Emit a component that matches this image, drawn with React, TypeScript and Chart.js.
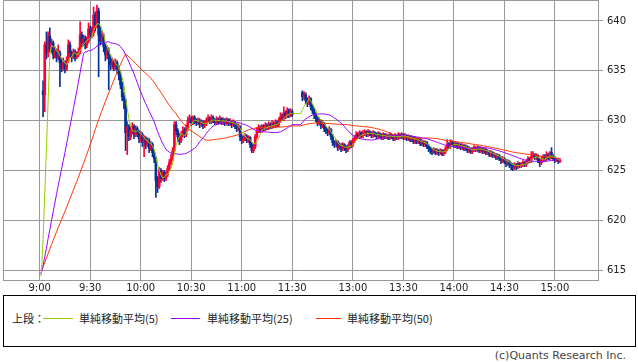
import React, { useEffect, useRef } from "react";
import { Chart, registerables } from "chart.js";

Chart.register(...registerables);

// Previous session's last 50 one-minute closes (used only to seed the moving averages)
const prevDayCloses = [
  615.4, 615.3, 615.5, 615.2, 615.3, 615.4, 615.1, 615.2, 615.3, 615.4,
  615.2, 615.1, 615.3, 615.4, 615.2, 615.3, 615.2, 615.1, 615.3, 615.4,
  615.2, 615.3, 615.2, 615.3, 615.2, 614.9, 614.8, 614.9, 614.7, 614.8,
  614.9, 614.8, 614.7, 614.8, 614.9, 614.7, 614.8, 614.8, 614.7, 614.9,
  614.8, 614.7, 614.8, 614.7, 614.8, 614.6, 614.5, 614.5, 614.4, 614.5,
];

// Morning session 9:00 - 11:30 (one entry per minute)
const amOpens = [
  null, null, 633.0, 632.6, 637.6, 636.8, 638.5, 637.2, 637.8, 636.6,
  637.0, 636.3, 636.8, 635.8, 635.3, 635.8, 635.2, 636.0, 637.6, 636.8,
  636.4, 636.9, 636.4, 636.6, 636.9, 638.6, 637.8, 638.2, 637.6, 638.0,
  639.2, 638.6, 638.8, 640.6, 639.6, 641.0, 638.6, 638.0, 638.4, 637.4,
  636.6, 637.0, 636.2, 635.6, 635.8, 635.4, 635.8, 635.2, 634.6, 633.6,
  632.4, 632.0, 628.8, 629.4, 628.4, 629.0, 629.4, 628.6, 629.2, 628.8,
  628.2, 628.6, 627.8, 628.2, 627.6, 628.0, 627.2, 627.6, 626.8, 626.2,
  624.0, 623.4, 625.0, 624.2, 624.8, 624.2, 624.6, 625.2, 625.8, 626.2,
  627.0, 629.6, 629.0, 628.4, 628.0, 628.6, 629.0, 628.6, 629.2, 630.0,
  630.2, 629.8, 630.3, 630.0, 629.8, 630.0, 629.6, 629.8, 629.5, 629.7,
  630.0, 630.2, 629.9, 630.3, 630.0, 629.8, 630.1, 629.9, 630.2, 629.8,
  630.0, 629.8, 630.1, 629.7, 629.9, 629.6, 629.8, 629.5, 629.2, 629.4,
  628.4, 628.0, 628.2, 628.4, 628.0, 628.3, 627.6, 627.0, 627.4, 628.4,
  629.0, 629.3, 629.0, 629.4, 629.2, 629.5, 629.3, 629.6, 629.4, 629.7,
  629.5, 629.8, 629.6, 630.0, 630.4, 630.2, 630.8, 630.5, 631.0, 630.6,
  630.9,
];
const amHighs = [
  null, null, 634.0, 637.9, 638.9, 638.9, 639.3, 638.2, 638.0, 637.4,
  637.2, 637.6, 637.0, 636.2, 636.3, 636.0, 636.4, 638.1, 637.9, 637.0,
  637.2, 637.1, 636.9, 637.3, 639.9, 638.9, 638.6, 638.5, 638.4, 639.8,
  639.5, 639.4, 641.4, 640.9, 641.6, 641.3, 639.4, 639.0, 638.7, 637.8,
  637.5, 637.3, 636.6, 636.3, 636.1, 636.2, 636.0, 635.5, 634.9, 633.9,
  632.8, 632.2, 629.9, 629.6, 629.4, 629.8, 629.6, 629.5, 629.4, 629.0,
  628.9, 628.8, 628.5, 628.4, 628.3, 628.2, 627.9, 627.8, 627.0, 626.4,
  624.4, 625.3, 625.2, 625.0, 625.0, 624.9, 625.5, 626.1, 626.6, 627.3,
  629.9, 629.9, 629.2, 628.7, 628.9, 629.4, 629.3, 629.6, 630.4, 630.6,
  630.4, 630.5, 630.5, 630.2, 630.3, 630.2, 630.1, 630.0, 630.0, 630.3,
  630.6, 630.4, 630.6, 630.5, 630.2, 630.4, 630.3, 630.5, 630.3, 630.3,
  630.2, 630.3, 630.2, 630.2, 630.0, 630.1, 629.9, 629.7, 629.7, 629.5,
  628.6, 628.5, 628.7, 628.6, 628.5, 628.4, 627.8, 627.7, 628.6, 629.3,
  629.6, 629.5, 629.6, 629.6, 629.8, 629.7, 629.9, 629.8, 630.0, 629.9,
  630.1, 630.0, 630.3, 630.8, 630.7, 631.4, 631.0, 631.3, 631.2, 631.2,
  631.1,
];
const amLows = [
  null, null, 630.4, 630.9, 636.2, 636.4, 636.9, 636.8, 636.2, 636.3,
  635.9, 636.1, 633.4, 634.9, 635.0, 634.8, 635.0, 635.8, 636.4, 635.9,
  636.2, 636.0, 636.2, 636.4, 636.7, 637.4, 637.5, 637.2, 637.3, 637.8,
  638.2, 638.3, 638.5, 639.0, 639.3, 634.4, 637.6, 637.7, 636.9, 636.0,
  636.2, 633.1, 635.1, 635.2, 635.0, 635.1, 634.8, 634.1, 633.2, 632.0,
  631.2, 627.0, 626.6, 628.0, 628.1, 628.7, 628.2, 628.4, 628.4, 627.8,
  627.9, 627.4, 626.4, 627.2, 627.4, 626.8, 627.0, 626.4, 625.8, 622.3,
  622.8, 623.2, 623.8, 624.0, 623.9, 624.0, 624.4, 625.0, 625.6, 626.0,
  626.8, 628.6, 627.9, 627.6, 627.8, 628.4, 628.3, 628.4, 629.0, 629.8,
  629.5, 629.6, 629.7, 629.5, 629.6, 629.3, 629.4, 629.2, 629.3, 629.5,
  629.8, 629.7, 629.7, 629.8, 629.6, 629.6, 629.7, 629.7, 629.6, 629.6,
  629.5, 629.6, 629.5, 629.5, 629.3, 629.4, 629.2, 628.9, 629.0, 628.0,
  627.7, 627.8, 628.0, 627.8, 627.8, 627.3, 626.8, 626.8, 627.2, 628.2,
  628.8, 628.8, 628.8, 629.0, 629.0, 629.1, 629.1, 629.2, 629.2, 629.3,
  629.3, 629.4, 629.4, 629.8, 630.0, 630.0, 630.2, 630.3, 630.3, 630.4,
  630.4,
];
const amCloses = [
  null, null, 632.6, 637.6, 636.8, 638.5, 637.2, 637.8, 636.6, 637.0,
  636.3, 636.8, 635.8, 635.3, 635.8, 635.2, 636.0, 637.6, 636.8, 636.4,
  636.9, 636.4, 636.6, 636.9, 638.6, 637.8, 638.2, 637.6, 638.0, 639.2,
  638.6, 638.8, 640.6, 639.6, 641.0, 638.6, 638.0, 638.4, 637.4, 636.6,
  637.0, 636.2, 635.6, 635.8, 635.4, 635.8, 635.2, 634.6, 633.6, 632.4,
  632.0, 628.8, 629.4, 628.4, 629.0, 629.4, 628.6, 629.2, 628.8, 628.2,
  628.6, 627.8, 628.2, 627.6, 628.0, 627.2, 627.6, 626.8, 626.2, 624.0,
  623.4, 625.0, 624.2, 624.8, 624.2, 624.6, 625.2, 625.8, 626.2, 627.0,
  629.6, 629.0, 628.4, 628.0, 628.6, 629.0, 628.6, 629.2, 630.0, 630.2,
  629.8, 630.3, 630.0, 629.8, 630.0, 629.6, 629.8, 629.5, 629.7, 630.0,
  630.2, 629.9, 630.3, 630.0, 629.8, 630.1, 629.9, 630.2, 629.8, 630.0,
  629.8, 630.1, 629.7, 629.9, 629.6, 629.8, 629.5, 629.2, 629.4, 628.4,
  628.0, 628.2, 628.4, 628.0, 628.3, 627.6, 627.0, 627.4, 628.4, 629.0,
  629.3, 629.0, 629.4, 629.2, 629.5, 629.3, 629.6, 629.4, 629.7, 629.5,
  629.8, 629.6, 630.0, 630.4, 630.2, 630.8, 630.5, 631.0, 630.6, 630.9,
  630.6,
];

// Afternoon session from 12:30 (one entry per minute)
const pmOpens = [
  632.8, 632.4, 632.6, 632.0, 631.8, 632.2, 631.4, 631.0, 630.6, 630.2,
  629.8, 630.0, 629.5, 629.7, 629.2, 629.0, 628.8, 629.1, 628.4, 627.8,
  627.6, 627.9, 627.3, 627.5, 627.2, 627.6, 627.3, 627.1, 627.4, 627.8,
  627.6, 628.0, 628.3, 628.6, 628.4, 628.8, 628.5, 628.7, 628.9, 628.6,
  628.9, 628.7, 628.5, 628.8, 628.6, 628.4, 628.7, 628.5, 628.3, 628.6,
  628.4, 628.5, 628.3, 628.6, 628.4, 628.2, 628.5, 628.3, 628.6, 628.4,
  628.6, 628.3, 628.5, 628.2, 628.4, 628.1, 628.3, 627.9, 628.2, 627.9,
  628.1, 627.7, 627.9, 627.6, 627.8, 627.4, 627.2, 627.0, 626.9, 627.1,
  626.8, 627.0, 626.8, 627.0, 626.7, 626.9, 627.2, 627.6, 627.4, 627.8,
  627.6, 627.5, 627.7, 627.4, 627.6, 627.3, 627.5, 627.2, 627.4, 627.0,
  627.2, 626.9, 627.1, 627.3, 627.1, 627.3, 627.0, 627.2, 626.9, 627.1,
  626.8, 626.9, 626.6, 626.8, 626.5, 626.6, 626.3, 626.5, 626.2, 626.0,
  626.2, 625.9, 625.7, 625.9, 625.6, 625.5, 625.3, 625.6, 625.4, 625.7,
  625.5, 625.6, 625.8, 625.6, 625.9, 626.2, 626.0, 626.4, 626.6, 626.3,
  626.5, 626.0, 625.8, 626.2, 626.4, 626.2, 626.6, 626.3, 626.8, 626.4,
  626.2, 626.0, 626.1, 625.9,
];
const pmHighs = [
  633.0, 632.9, 632.8, 632.3, 632.5, 632.3, 631.6, 631.2, 630.8, 630.4,
  630.3, 630.1, 630.0, 629.8, 629.4, 629.2, 629.4, 629.2, 628.6, 628.0,
  628.1, 628.0, 627.8, 627.7, 627.8, 627.7, 627.5, 627.6, 628.0, 628.0,
  628.2, 628.5, 628.9, 628.8, 629.0, 628.9, 629.0, 629.1, 629.0, 629.1,
  629.0, 628.9, 629.0, 628.9, 628.8, 628.9, 628.8, 628.7, 628.8, 628.7,
  628.7, 628.6, 628.8, 628.7, 628.6, 628.7, 628.6, 628.8, 628.7, 628.8,
  628.7, 628.7, 628.6, 628.6, 628.5, 628.5, 628.4, 628.4, 628.3, 628.3,
  628.2, 628.1, 628.0, 628.0, 627.9, 627.6, 627.4, 627.2, 627.3, 627.2,
  627.2, 627.1, 627.2, 627.1, 627.1, 627.4, 628.1, 627.8, 628.1, 628.0,
  627.8, 627.9, 627.8, 627.8, 627.7, 627.7, 627.6, 627.6, 627.5, 627.4,
  627.3, 627.3, 627.5, 627.4, 627.5, 627.4, 627.4, 627.3, 627.3, 627.2,
  627.1, 627.0, 627.0, 626.9, 626.8, 626.7, 626.7, 626.6, 626.4, 626.4,
  626.3, 626.1, 626.1, 626.0, 625.8, 625.7, 625.8, 625.7, 625.9, 625.8,
  625.8, 626.0, 625.9, 626.1, 626.4, 626.3, 626.9, 626.9, 626.7, 626.7,
  626.6, 626.2, 626.4, 626.6, 626.6, 626.9, 626.7, 626.9, 627.3, 626.6,
  626.4, 626.3, 626.2, 626.2,
];
const pmLows = [
  632.0, 632.1, 631.7, 631.4, 631.6, 631.1, 630.7, 630.2, 629.9, 629.5,
  629.6, 629.2, 629.3, 628.9, 628.7, 628.5, 628.6, 628.1, 627.5, 627.3,
  627.4, 627.0, 627.1, 626.9, 627.0, 627.0, 626.8, 626.9, 627.2, 627.3,
  627.4, 627.8, 628.1, 628.2, 628.2, 628.3, 628.3, 628.5, 628.4, 628.4,
  628.5, 628.3, 628.3, 628.4, 628.2, 628.2, 628.3, 628.1, 628.1, 628.2,
  628.2, 628.1, 628.1, 628.2, 628.0, 628.0, 628.1, 628.1, 628.2, 628.2,
  628.1, 628.1, 628.0, 628.0, 627.9, 627.9, 627.7, 627.7, 627.7, 627.7,
  627.5, 627.5, 627.4, 627.4, 627.2, 626.9, 626.7, 626.6, 626.7, 626.6,
  626.6, 626.5, 626.6, 626.5, 626.5, 626.7, 627.0, 627.2, 627.2, 627.4,
  627.3, 627.3, 627.2, 627.2, 627.1, 627.1, 627.0, 627.0, 626.8, 626.8,
  626.7, 626.7, 626.9, 626.9, 626.9, 626.8, 626.8, 626.7, 626.7, 626.6,
  626.6, 626.4, 626.4, 626.3, 626.3, 626.1, 626.1, 626.0, 625.7, 625.8,
  625.7, 625.4, 625.5, 625.3, 625.1, 625.0, 625.1, 625.1, 625.2, 625.3,
  625.3, 625.4, 625.4, 625.4, 625.7, 625.8, 625.8, 626.2, 626.1, 626.1,
  625.8, 625.4, 625.6, 626.0, 626.0, 626.0, 626.1, 626.1, 626.2, 626.0,
  625.8, 625.9, 625.7, 625.8,
];
const pmCloses = [
  632.4, 632.6, 632.0, 631.8, 632.2, 631.4, 631.0, 630.6, 630.2, 629.8,
  630.0, 629.5, 629.7, 629.2, 629.0, 628.8, 629.1, 628.4, 627.8, 627.6,
  627.9, 627.3, 627.5, 627.2, 627.6, 627.3, 627.1, 627.4, 627.8, 627.6,
  628.0, 628.3, 628.6, 628.4, 628.8, 628.5, 628.7, 628.9, 628.6, 628.9,
  628.7, 628.5, 628.8, 628.6, 628.4, 628.7, 628.5, 628.3, 628.6, 628.4,
  628.5, 628.3, 628.6, 628.4, 628.2, 628.5, 628.3, 628.6, 628.4, 628.6,
  628.3, 628.5, 628.2, 628.4, 628.1, 628.3, 627.9, 628.2, 627.9, 628.1,
  627.7, 627.9, 627.6, 627.8, 627.4, 627.2, 627.0, 626.9, 627.1, 626.8,
  627.0, 626.8, 627.0, 626.7, 626.9, 627.2, 627.6, 627.4, 627.8, 627.6,
  627.5, 627.7, 627.4, 627.6, 627.3, 627.5, 627.2, 627.4, 627.0, 627.2,
  626.9, 627.1, 627.3, 627.1, 627.3, 627.0, 627.2, 626.9, 627.1, 626.8,
  626.9, 626.6, 626.8, 626.5, 626.6, 626.3, 626.5, 626.2, 626.0, 626.2,
  625.9, 625.7, 625.9, 625.6, 625.5, 625.3, 625.6, 625.4, 625.7, 625.5,
  625.6, 625.8, 625.6, 625.9, 626.2, 626.0, 626.4, 626.6, 626.3, 626.5,
  626.0, 625.8, 626.2, 626.4, 626.2, 626.6, 626.3, 626.8, 626.4, 626.2,
  626.0, 626.1, 625.9, 626.0,
];

const lunchGapSlots = 5;
const xTickLabels = ["9:00", "9:30", "10:00", "10:30", "11:00", "11:30", "13:00", "13:30", "14:00", "14:30", "15:00"];
const yTickValues = [615, 620, 625, 630, 635, 640];
const maPeriods = [5, 25, 50];
const maNames = ["単純移動平均(5)", "単純移動平均(25)", "単純移動平均(50)"];
const maColors = ["#99cc00", "#9900ff", "#ff3300"];
const upColor = "#ff0033";
const downColor = "#003399";

function timeToSlot(t: string): number {
  const [h, m] = t.split(":").map(Number);
  const mins = h * 60 + m;
  if (mins <= 11 * 60 + 30) return mins - 9 * 60;
  return amCloses.length + lunchGapSlots + (mins - (12 * 60 + 30));
}

const framePlugin = {
  id: "frame",
  afterDraw(chart: any) {
    const { ctx, chartArea } = chart;
    const { left, top, right, bottom } = chartArea;
    ctx.save();
    ctx.strokeStyle = "#999";
    ctx.lineWidth = 1;
    ctx.beginPath();
    ctx.moveTo(Math.round(left) + 0.5, bottom);
    ctx.lineTo(Math.round(left) + 0.5, top + 0.5);
    ctx.lineTo(right, top + 0.5);
    ctx.stroke();
    ctx.restore();
  },
};

export default function App() {
  const canvasRef = useRef<HTMLCanvasElement | null>(null);

  useEffect(() => {
    if (!canvasRef.current) return;
    const gap: (number | null)[] = new Array(lunchGapSlots).fill(null);
    const opens = [...amOpens, ...gap, ...pmOpens];
    const highs = [...amHighs, ...gap, ...pmHighs];
    const lows = [...amLows, ...gap, ...pmLows];
    const closes = [...amCloses, ...gap, ...pmCloses];
    const n = closes.length;

    const hist: number[] = [...prevDayCloses];
    const maData = maPeriods.map(() => [] as { x: number; y: number }[]);
    for (let i = 0; i < n; i++) {
      const c = closes[i];
      if (c != null) hist.push(c);
      maPeriods.forEach((p, k) => {
        const w = hist.slice(-p);
        maData[k].push({ x: i, y: w.reduce((a, b) => a + b, 0) / w.length });
      });
    }

    const bodies: any[] = [];
    const wicks: any[] = [];
    const colors: string[] = [];
    for (let i = 0; i < n; i++) {
      const c = closes[i];
      const o = opens[i];
      if (c == null || o == null) continue;
      bodies.push({ x: i, y: [o, c] });
      wicks.push({ x: i, y: [lows[i], highs[i]] });
      colors.push(c >= o ? upColor : downColor);
    }

    const chart = new Chart(canvasRef.current, {
      type: "bar",
      data: {
        datasets: [
          ...maData.map((d, k) => ({
            type: "line" as const,
            label: maNames[k],
            data: d,
            borderColor: maColors[k],
            backgroundColor: maColors[k],
            borderWidth: 1,
            pointRadius: 0,
            tension: 0,
            order: 0,
          })),
          {
            type: "bar" as const,
            label: "body",
            data: bodies,
            backgroundColor: colors,
            barThickness: 2,
            minBarLength: 1,
            grouped: false,
            borderWidth: 0,
            order: 1,
          },
          {
            type: "bar" as const,
            label: "wick",
            data: wicks,
            backgroundColor: colors,
            barThickness: 1,
            grouped: false,
            borderWidth: 0,
            order: 2,
          },
        ] as any,
      },
      options: {
        animation: false,
        responsive: false,
        devicePixelRatio: 1,
        events: [],
        layout: { padding: { left: 3, top: 0, right: 0, bottom: 0 } },
        plugins: { legend: { display: false }, tooltip: { enabled: false } },
        scales: {
          x: {
            type: "linear",
            min: -21.8,
            max: 331.6,
            offset: false,
            afterBuildTicks: (s: any) => {
              s.ticks = xTickLabels.map((l) => ({ value: timeToSlot(l) }));
            },
            afterFit: (s: any) => {
              s.height = 15;
              s.paddingLeft = 0;
              s.paddingRight = 0;
            },
            ticks: {
              callback: (_v: any, i: number) => xTickLabels[i],
              autoSkip: false,
              maxRotation: 0,
              padding: 2,
              color: "#222",
              font: { size: 10, family: "DejaVu Sans" },
            },
            grid: { color: "#999", lineWidth: 1, drawTicks: false, offset: false },
            border: { color: "#999" },
          },
          y: {
            type: "linear",
            position: "right",
            min: 614.03,
            max: 642.1,
            afterBuildTicks: (s: any) => {
              s.ticks = yTickValues.map((v) => ({ value: v }));
            },
            afterFit: (s: any) => {
              s.width = 40;
              s.paddingTop = 0;
              s.paddingBottom = 0;
            },
            ticks: {
              callback: (v: any) => String(v),
              padding: 4,
              color: "#222",
              font: { size: 10, family: "DejaVu Sans" },
            },
            grid: { color: "#999", lineWidth: 1, tickLength: 5 },
            border: { color: "#999" },
          },
        },
      } as any,
      plugins: [framePlugin],
    });
    return () => chart.destroy();
  }, []);

  const legendFont = '11px "Noto Sans CJK JP", "DejaVu Sans", sans-serif';
  const textStyle = (left: number): React.CSSProperties => ({
    position: "absolute",
    left,
    top: 311,
    font: legendFont,
    lineHeight: "14px",
    color: "#222",
    whiteSpace: "nowrap",
  });
  const lineStyle = (left: number, width: number, color: string): React.CSSProperties => ({
    position: "absolute",
    left,
    top: 318,
    width,
    height: 1,
    background: color,
  });

  return (
    <div style={{ position: "fixed", left: 0, top: 0, width: 638, height: 362, background: "#fff", overflow: "hidden" }}>
      <canvas ref={canvasRef} width={638} height={295} style={{ position: "absolute", left: 0, top: 0, width: 638, height: 295 }} />
      <div
        style={{
          position: "absolute",
          left: 3,
          top: 295,
          width: 633,
          height: 52,
          border: "1px solid #000",
          boxSizing: "border-box",
        }}
      />
      <div style={textStyle(12)}>上段：</div>
      <div style={lineStyle(43, 30, maColors[0])} />
      <div style={textStyle(79)}>{maNames[0]}</div>
      <div style={lineStyle(171, 29, maColors[1])} />
      <div style={textStyle(207)}>{maNames[1]}</div>
      <div style={lineStyle(316, 25, maColors[2])} />
      <div style={textStyle(347)}>{maNames[2]}</div>
      <div
        style={{
          position: "absolute",
          right: 12,
          top: 349,
          font: '11px "DejaVu Sans", sans-serif',
          lineHeight: "13px",
          color: "#444",
          whiteSpace: "nowrap",
        }}
      >
        (c)Quants Research Inc.
      </div>
    </div>
  );
}
